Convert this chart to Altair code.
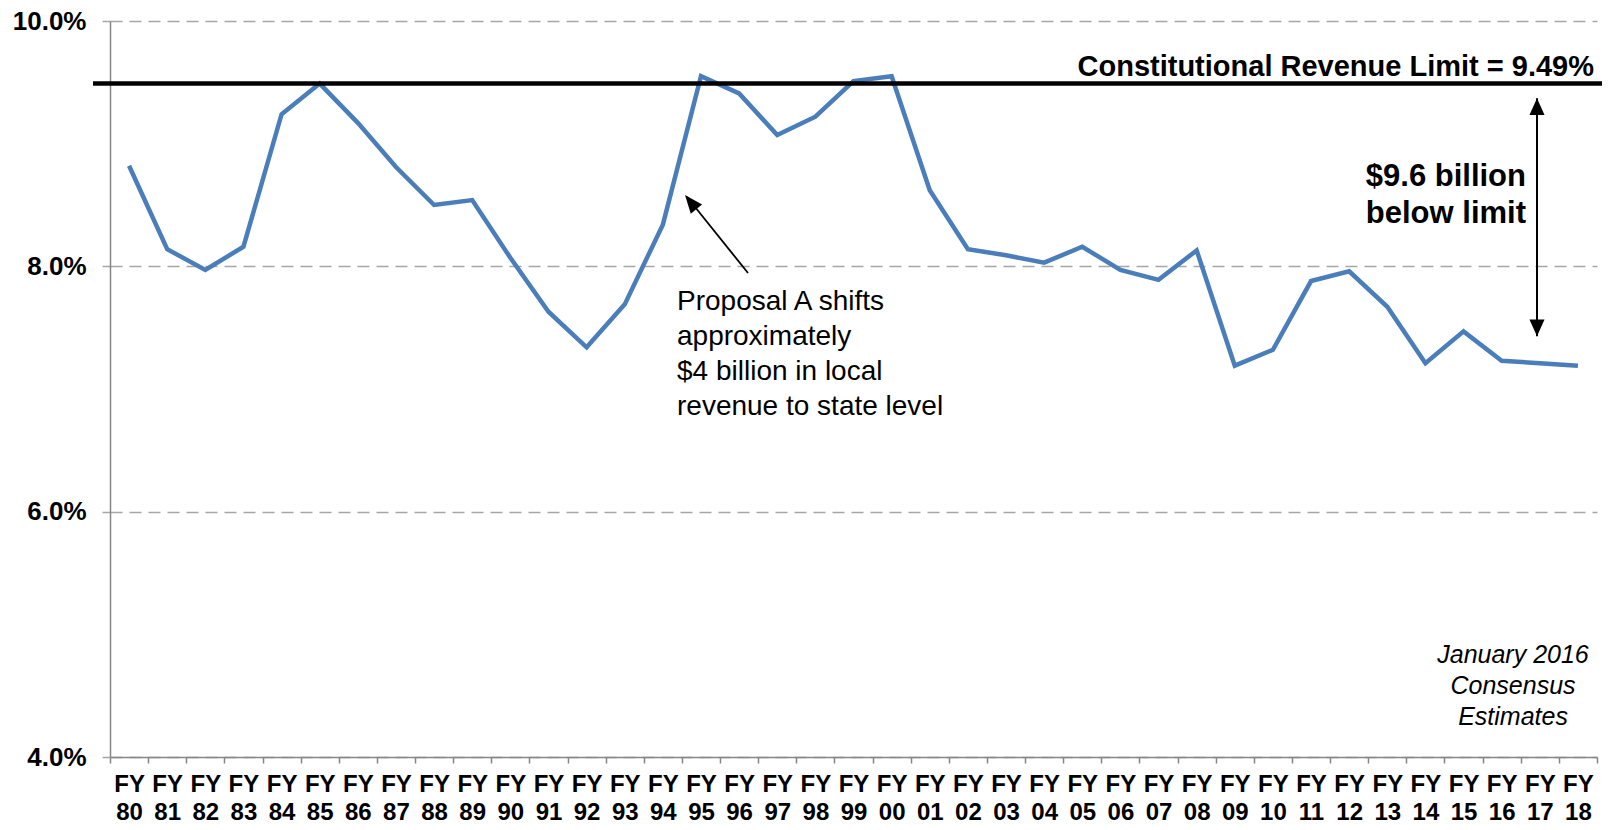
import altair as alt
import pandas as pd

# ---- data ----
years = ["80", "81", "82", "83", "84", "85", "86", "87", "88", "89",
         "90", "91", "92", "93", "94", "95", "96", "97", "98", "99",
         "00", "01", "02", "03", "04", "05", "06", "07", "08", "09",
         "10", "11", "12", "13", "14", "15", "16", "17", "18"]
values = [8.82, 8.14, 7.97, 8.16, 9.24, 9.49, 9.17, 8.81, 8.50, 8.54,
          8.07, 7.63, 7.34, 7.69, 8.34, 9.55, 9.41, 9.07, 9.22, 9.51,
          9.55, 8.62, 8.14, 8.09, 8.03, 8.16, 7.97, 7.89, 8.13, 7.19,
          7.32, 7.88, 7.96, 7.67, 7.21, 7.47, 7.23, 7.21, 7.19]
labels = ["FY " + y for y in years]
y_ticks = [4, 6, 8, 10]
limit_value = 9.49
limit_text = "Constitutional Revenue Limit = 9.49%"
gap_top = 9.37
gap_bottom = 7.43
gap_text = ["$9.6 billion", "below limit"]
proposal_text = ["Proposal A shifts", "approximately", "$4 billion in local", "revenue to state level"]
source_text = ["January 2016", "Consensus", "Estimates"]

df = pd.DataFrame({"label": labels, "value": values})

W, H = 1487, 736
FONT = "Liberation Sans, Arial, sans-serif"
BLUE = "#4A7EBB"
AXIS_GRAY = "#868686"
GRID_GRAY = "#A6A6A6"

x_enc = alt.X(
    "label:N",
    sort=labels,
    scale=alt.Scale(type="band", paddingInner=0, paddingOuter=0),
    bandPosition=0.5,
    axis=alt.Axis(
        title=None, tickBand="extent", labelExpr="split(datum.label, ' ')",
        labelAngle=0, labelFont=FONT, labelFontSize=24, labelFontWeight="bold",
        labelColor="black", labelLineHeight=28, labelPadding=9, labelBaseline="top",
        tickSize=6, tickColor=AXIS_GRAY, tickWidth=1.5,
        domainColor=AXIS_GRAY, domainWidth=1.5, grid=False,
    ),
)
y_enc = alt.Y(
    "value:Q",
    scale=alt.Scale(domain=[4, 10], nice=False, zero=False),
    axis=alt.Axis(
        title=None, values=y_ticks, labelExpr="format(datum.value, '.1f') + '%'",
        labelFont=FONT, labelFontSize=26, labelFontWeight="bold", labelColor="black",
        labelPadding=16, tickSize=8, tickColor=GRID_GRAY, tickWidth=1.5,
        domainColor=AXIS_GRAY, domainWidth=1.5,
        gridColor=GRID_GRAY, gridDash=[12, 7], gridWidth=1.5,
    ),
)

line = alt.Chart(df).mark_line(color=BLUE, strokeWidth=4.5).encode(x=x_enc, y=y_enc)

limit_df = pd.DataFrame({"limit": [limit_value], "t": [limit_text]})
limit_rule = alt.Chart(limit_df).mark_rule(color="black", strokeWidth=4.5).encode(
    y=alt.Y("limit:Q"), x=alt.value(-17), x2=alt.value(W + 7)
)
limit_label = alt.Chart(limit_df).mark_text(
    align="right", baseline="alphabetic", font=FONT, fontSize=29,
    fontWeight="bold", color="black"
).encode(x=alt.value(1484), y=alt.value(55), text="t:N")

gap_df = pd.DataFrame({"top": [gap_top], "bottom": [gap_bottom]})
gap_shaft = alt.Chart(gap_df).mark_rule(color="black", strokeWidth=2).encode(
    x=alt.value(1427), y=alt.Y("top:Q"), y2="bottom:Q"
)
head_up = alt.Chart(gap_df).mark_point(
    shape="M0,0L-0.9,2L0.9,2Z", size=280, filled=True, color="black",
    opacity=1, strokeWidth=0
).encode(x=alt.value(1427), y=alt.Y("top:Q"))
head_down = alt.Chart(gap_df).mark_point(
    shape="M0,0L-0.9,-2L0.9,-2Z", size=280, filled=True, color="black",
    opacity=1, strokeWidth=0
).encode(x=alt.value(1427), y=alt.Y("bottom:Q"))
one = pd.DataFrame({"k": [0]})
gap_label = alt.Chart(one).mark_text(
    text=gap_text, align="right", baseline="middle", font=FONT, fontSize=31,
    fontWeight="bold", color="black", lineHeight=37
).encode(x=alt.value(1416), y=alt.value(156))

prop_shaft = alt.Chart(one).mark_rule(color="black", strokeWidth=1.8).encode(
    x=alt.value(638), y=alt.value(252), x2=alt.value(577), y2=alt.value(176)
)
prop_head = alt.Chart(one).mark_point(
    shape="M0,0L-0.8,2L0.8,2Z", size=330, angle=321, filled=True,
    color="black", opacity=1, strokeWidth=0
).encode(x=alt.value(575), y=alt.value(174))
prop_label = alt.Chart(one).mark_text(
    text=proposal_text, align="left", baseline="middle", font=FONT, fontSize=28,
    color="black", lineHeight=35
).encode(x=alt.value(567), y=alt.value(281))

source_label = alt.Chart(one).mark_text(
    text=source_text, align="center", baseline="middle", font=FONT, fontSize=25,
    fontStyle="italic", color="black", lineHeight=31
).encode(x=alt.value(1403), y=alt.value(634))

chart = alt.layer(
    line, limit_rule, limit_label, gap_shaft, head_up, head_down, gap_label,
    prop_shaft, prop_head, prop_label, source_label
).properties(
    width=W, height=H,
    padding={"left": 102, "top": 13, "right": 5, "bottom": 70},
    autosize=alt.AutoSizeParams(type="none"),
    background="white",
).configure_view(stroke=None)

chart.save("out.html", embed_options={"renderer": "svg", "actions": False})
